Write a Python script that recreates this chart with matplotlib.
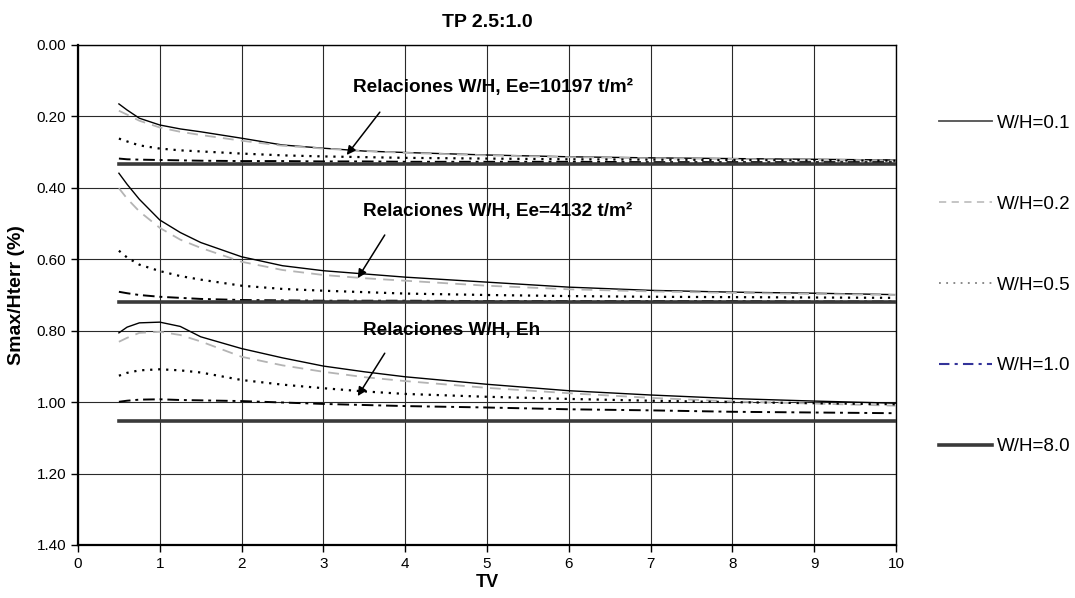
import numpy as np
import matplotlib
matplotlib.use('Agg')
import matplotlib.pyplot as plt
from matplotlib.lines import Line2D

plt.rcParams['font.family'] = ['Liberation Sans', 'DejaVu Sans']

tv = [0.5, 0.6, 0.75, 1.0, 1.25, 1.5, 2.0, 2.5, 3.0, 3.5, 4.0, 5.0, 6.0, 7.0, 8.0, 9.0, 10.0]
labels = ['W/H=0.1', 'W/H=0.2', 'W/H=0.5', 'W/H=1.0', 'W/H=8.0']

# Ee = 10197 t/m2
ee1_01 = [0.165, 0.182, 0.205, 0.224, 0.235, 0.243, 0.261, 0.280, 0.289, 0.297, 0.301, 0.308, 0.313, 0.316, 0.318, 0.320, 0.322]
ee1_02 = [0.184, 0.195, 0.212, 0.231, 0.243, 0.252, 0.268, 0.282, 0.290, 0.297, 0.302, 0.309, 0.314, 0.317, 0.319, 0.321, 0.323]
ee1_05 = [0.262, 0.270, 0.281, 0.290, 0.295, 0.298, 0.304, 0.309, 0.312, 0.314, 0.316, 0.318, 0.320, 0.321, 0.322, 0.323, 0.324]
ee1_10 = [0.318, 0.320, 0.321, 0.322, 0.323, 0.324, 0.325, 0.325, 0.326, 0.326, 0.327, 0.327, 0.327, 0.328, 0.328, 0.328, 0.328]
ee1_80 = [0.333] * 17

# Ee = 4132 t/m2
ee2_01 = [0.359, 0.390, 0.432, 0.490, 0.525, 0.553, 0.593, 0.618, 0.632, 0.641, 0.650, 0.664, 0.678, 0.687, 0.692, 0.695, 0.699]
ee2_02 = [0.401, 0.430, 0.466, 0.512, 0.545, 0.568, 0.607, 0.630, 0.644, 0.653, 0.660, 0.674, 0.684, 0.690, 0.694, 0.697, 0.700]
ee2_05 = [0.576, 0.595, 0.615, 0.633, 0.647, 0.657, 0.674, 0.683, 0.688, 0.692, 0.696, 0.700, 0.703, 0.705, 0.706, 0.707, 0.708]
ee2_10 = [0.691, 0.695, 0.700, 0.705, 0.708, 0.711, 0.714, 0.715, 0.716, 0.716, 0.716, 0.717, 0.717, 0.717, 0.717, 0.718, 0.718]
ee2_80 = [0.720] * 17

# Eh
eh_01 = [0.806, 0.790, 0.778, 0.776, 0.788, 0.817, 0.850, 0.876, 0.899, 0.915, 0.929, 0.950, 0.968, 0.980, 0.990, 0.997, 1.003]
eh_02 = [0.831, 0.820, 0.806, 0.803, 0.812, 0.830, 0.873, 0.897, 0.915, 0.930, 0.941, 0.960, 0.975, 0.988, 0.998, 1.004, 1.010]
eh_05 = [0.926, 0.918, 0.911, 0.908, 0.911, 0.917, 0.938, 0.951, 0.961, 0.970, 0.977, 0.985, 0.991, 0.996, 1.000, 1.003, 1.006]
eh_10 = [0.999, 0.996, 0.993, 0.992, 0.994, 0.995, 0.997, 1.001, 1.005, 1.008, 1.011, 1.015, 1.020, 1.023, 1.027, 1.029, 1.031]
eh_80 = [1.052] * 17

groups = [
    [ee1_01, ee1_02, ee1_05, ee1_10, ee1_80],
    [ee2_01, ee2_02, ee2_05, ee2_10, ee2_80],
    [eh_01, eh_02, eh_05, eh_10, eh_80],
]

# plot styles (in the chart) and legend styles (Excel draws them slightly different)
styles = [
    dict(color='black', lw=1.0, ls='-'),
    dict(color='#b4b4b4', lw=1.3, ls=(0, (6, 4))),
    dict(color='black', lw=1.6, ls=(0, (1, 2.6))),
    dict(color='black', lw=1.4, ls=(0, (6, 2.5, 1.5, 2.5))),
    dict(color='#3a3a3a', lw=2.6, ls='-'),
]
leg_styles = [
    dict(color='#505050', lw=1.3, ls='-'),
    dict(color='#c0c0c0', lw=1.3, ls=(0, (4, 3))),
    dict(color='#808080', lw=1.3, ls=(0, (1, 3))),
    dict(color='#333399', lw=1.5, ls=(0, (5, 2.5, 1.5, 2.5))),
    dict(color='#3a3a3a', lw=2.6, ls='-'),
]

fig = plt.figure(figsize=(10.75, 5.98), dpi=100)
ax = fig.add_axes([78 / 1075, 1 - 545 / 598, 818 / 1075, 500 / 598])

for g in groups:
    for vals, st in zip(g, styles):
        ax.plot(tv, vals, **st, zorder=3)

ax.set_xlim(0, 10)
ax.set_ylim(1.4, 0.0)
ax.set_xticks(range(0, 11))
ax.set_yticks(np.arange(0, 1.41, 0.2))
ax.set_yticklabels(['%.2f' % v for v in np.arange(0, 1.41, 0.2)])
ax.grid(True, color='#2a2a2a', lw=0.8)
ax.tick_params(labelsize=11, length=5, width=1, direction='out')
for s in ax.spines.values():
    s.set_linewidth(1.0)
ax.spines['left'].set_linewidth(1.6)
ax.spines['bottom'].set_linewidth(1.6)

ax.set_title('TP 2.5:1.0', fontsize=14, fontweight='bold', pad=13)
ax.set_xlabel('TV', fontsize=13, fontweight='bold', labelpad=2)
ax.set_ylabel('Smax/Hterr (%)', fontsize=14, fontweight='bold', labelpad=8)

txt = dict(fontsize=13.7, fontweight='bold', va='center', ha='left', zorder=5)
arw = dict(arrowstyle='-|>', color='black', lw=1.1, mutation_scale=13, shrinkA=0, shrinkB=0)
ax.text(3.36, 0.12, 'Relaciones W/H, Ee=10197 t/m²', **txt)
ax.annotate('', xy=(3.285, 0.308), xytext=(3.69, 0.188), arrowprops=arw)
ax.text(3.48, 0.465, 'Relaciones W/H, Ee=4132 t/m²', **txt)
ax.annotate('', xy=(3.42, 0.653), xytext=(3.75, 0.532), arrowprops=arw)
ax.text(3.48, 0.80, 'Relaciones W/H, Eh', **txt)
ax.annotate('', xy=(3.42, 0.983), xytext=(3.75, 0.863), arrowprops=arw)

handles = [Line2D([], [], **st) for st in leg_styles]
fig.legend(handles, labels, loc='center left', bbox_to_anchor=(939 / 1075, 1 - 285 / 598),
           frameon=False, fontsize=13.5, labelspacing=3.4, handlelength=2.8,
           handletextpad=0.3, borderpad=0, borderaxespad=0)

fig.savefig('out.png', dpi=100)
